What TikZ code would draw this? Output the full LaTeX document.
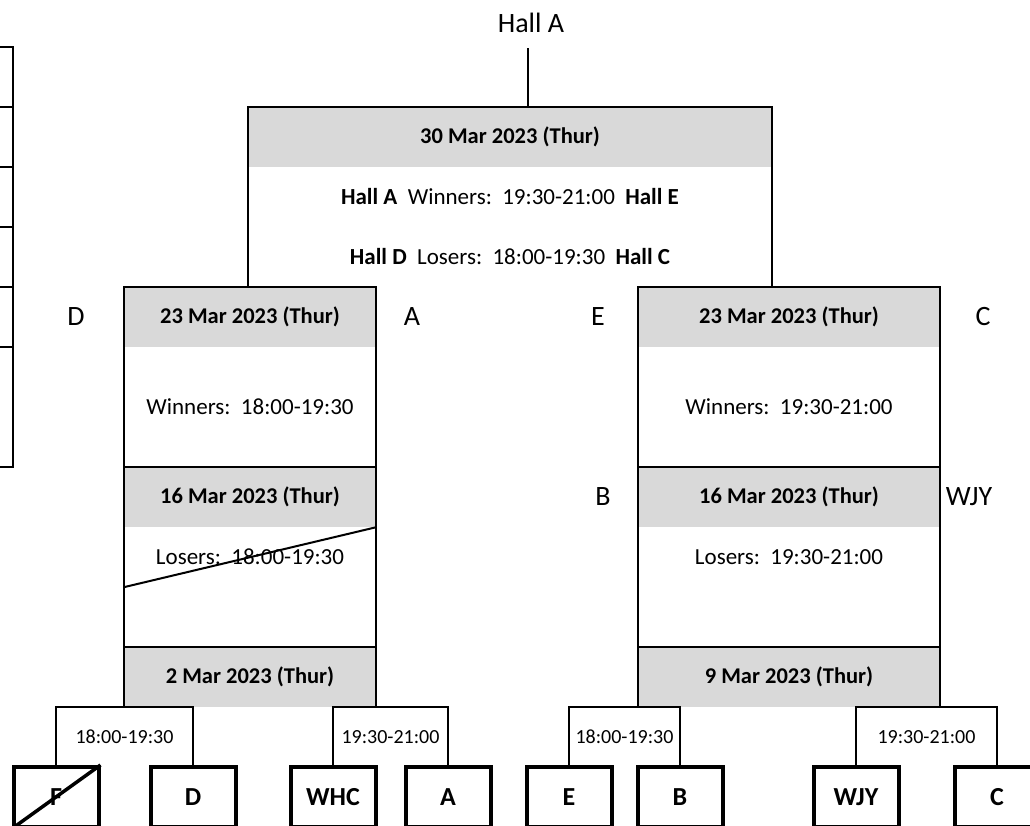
\documentclass[tikz,border=0pt]{standalone}
\usepackage{fontspec}
\setmainfont{Carlito}
\usepackage{tikz}

\begin{document}
\begin{tikzpicture}[
    x=1pt, y=-1pt,
    line/.style={line width=2pt},
    hdr/.style={fill=black!15, minimum height=60pt, inner sep=0pt, font=\fontsize{22.5}{26}\selectfont\bfseries},
    txt/.style={inner sep=0pt, font=\fontsize{23}{27}\selectfont},
    lbl/.style={inner sep=0pt, font=\fontsize{28}{32}\selectfont},
    slot/.style={inner sep=0pt, font=\fontsize{20}{24}\selectfont},
    team/.style={draw, line width=4pt, minimum width=85pt, minimum height=60pt, inner sep=0pt, font=\fontsize{26}{30}\selectfont\bfseries},
    strike/.style={line width=2pt}
]
\useasboundingbox (0,0) rectangle (1030,825);
\clip (0,0) rectangle (1030,825);

% boxes cut off at the left edge
\foreach \ytop/\ybot in {47/107,107/167,167/227,227/287,287/347,347/467}
    \draw[line] (-40,\ytop) rectangle (13,\ybot);

% final
\node[lbl] (hall) at (531,23) {Hall A};
\coordinate (hallfoot) at (528,48);
\node[hdr, minimum width=524pt] (final) at (510,137) {30 Mar 2023 (Thur)};
\node[txt] (finalW) at (510,197) {\textbf{Hall A}\ \ Winners:\ \ 19:30-21:00\ \ \textbf{Hall E}};
\node[txt] (finalL) at (510,257) {\textbf{Hall D}\ \ Losers:\ \ 18:00-19:30\ \ \textbf{Hall C}};

% left column
\node[hdr, minimum width=252pt] (L1) at (250,317) {23 Mar 2023 (Thur)};
\node[txt] (LW) at (250,407) {Winners:\ \ 18:00-19:30};
\node[hdr, minimum width=252pt] (L2) at (250,497) {16 Mar 2023 (Thur)};
\node[txt] (LL) at (250,557) {Losers:\ \ 18:00-19:30};
\node[hdr, minimum width=252pt] (L3) at (250,677) {2 Mar 2023 (Thur)};

% right column
\node[hdr, minimum width=302pt] (R1) at (789,317) {23 Mar 2023 (Thur)};
\node[txt] (RW) at (789,407) {Winners:\ \ 19:30-21:00};
\node[hdr, minimum width=302pt] (R2) at (789,497) {16 Mar 2023 (Thur)};
\node[txt] (RL) at (789,557) {Losers:\ \ 19:30-21:00};
\node[hdr, minimum width=302pt] (R3) at (789,677) {9 Mar 2023 (Thur)};

\foreach \c in {L,R} {
    \draw[line] (\c3.south west) -- (\c1.north west) -- (\c1.north east) -- (\c3.south east);
    \draw[line] (\c2.north west) -- (\c2.north east);
    \draw[line] (\c3.north west) -- (\c3.north east);
}

\draw[line] (final.north west |- L1.north) -- (final.north west) -- (final.north east) -- (final.north east |- R1.north);
\draw[line] (hallfoot) -- (hallfoot |- final.north);

% side labels
\node[lbl] (sD) at (76,317) {D};
\node[lbl] (sA) at (412,317) {A};
\node[lbl] (sE) at (598,317) {E};
\node[lbl] (sC) at (983,317) {C};
\node[lbl] (sB) at (603,497) {B};
\node[lbl] (sWJY) at (969,497) {WJY};

% teams
\node[team] (tF) at (56,797) {F};
\node[team] (tD) at (193,797) {D};
\node[team] (tWHC) at (333,797) {WHC};
\node[team] (tA) at (448,797) {A};
\node[team] (tE) at (569,797) {E};
\node[team] (tB) at (680,797) {B};
\node[team] (tWJY) at (856,797) {WJY};
\node[team] (tC) at (997,797) {C};

% first round brackets
\draw[line] (tF.north) -- (tF.north |- L3.south) -- (tD.north |- L3.south) -- (tD.north);
\draw[line] (tWHC.north) -- (tWHC.north |- L3.south) -- (tA.north |- L3.south) -- (tA.north);
\draw[line] (tE.north) -- (tE.north |- R3.south) -- (tB.north |- R3.south) -- (tB.north);
\draw[line] (tWJY.north) -- (tWJY.north |- R3.south) -- (tC.north |- R3.south) -- (tC.north);
\node[slot] (slot1) at (124.5,737) {18:00-19:30};
\node[slot] (slot2) at (390.5,737) {19:30-21:00};
\node[slot] (slot3) at (624.5,737) {18:00-19:30};
\node[slot] (slot4) at (926.5,737) {19:30-21:00};

% crossed out
\draw[strike] ([yshift=-60pt]L2.south west) -- (L2.south east);
\draw[strike, line width=3.5pt] (tF.south west) -- (tF.north east);

\end{tikzpicture}
\end{document}
